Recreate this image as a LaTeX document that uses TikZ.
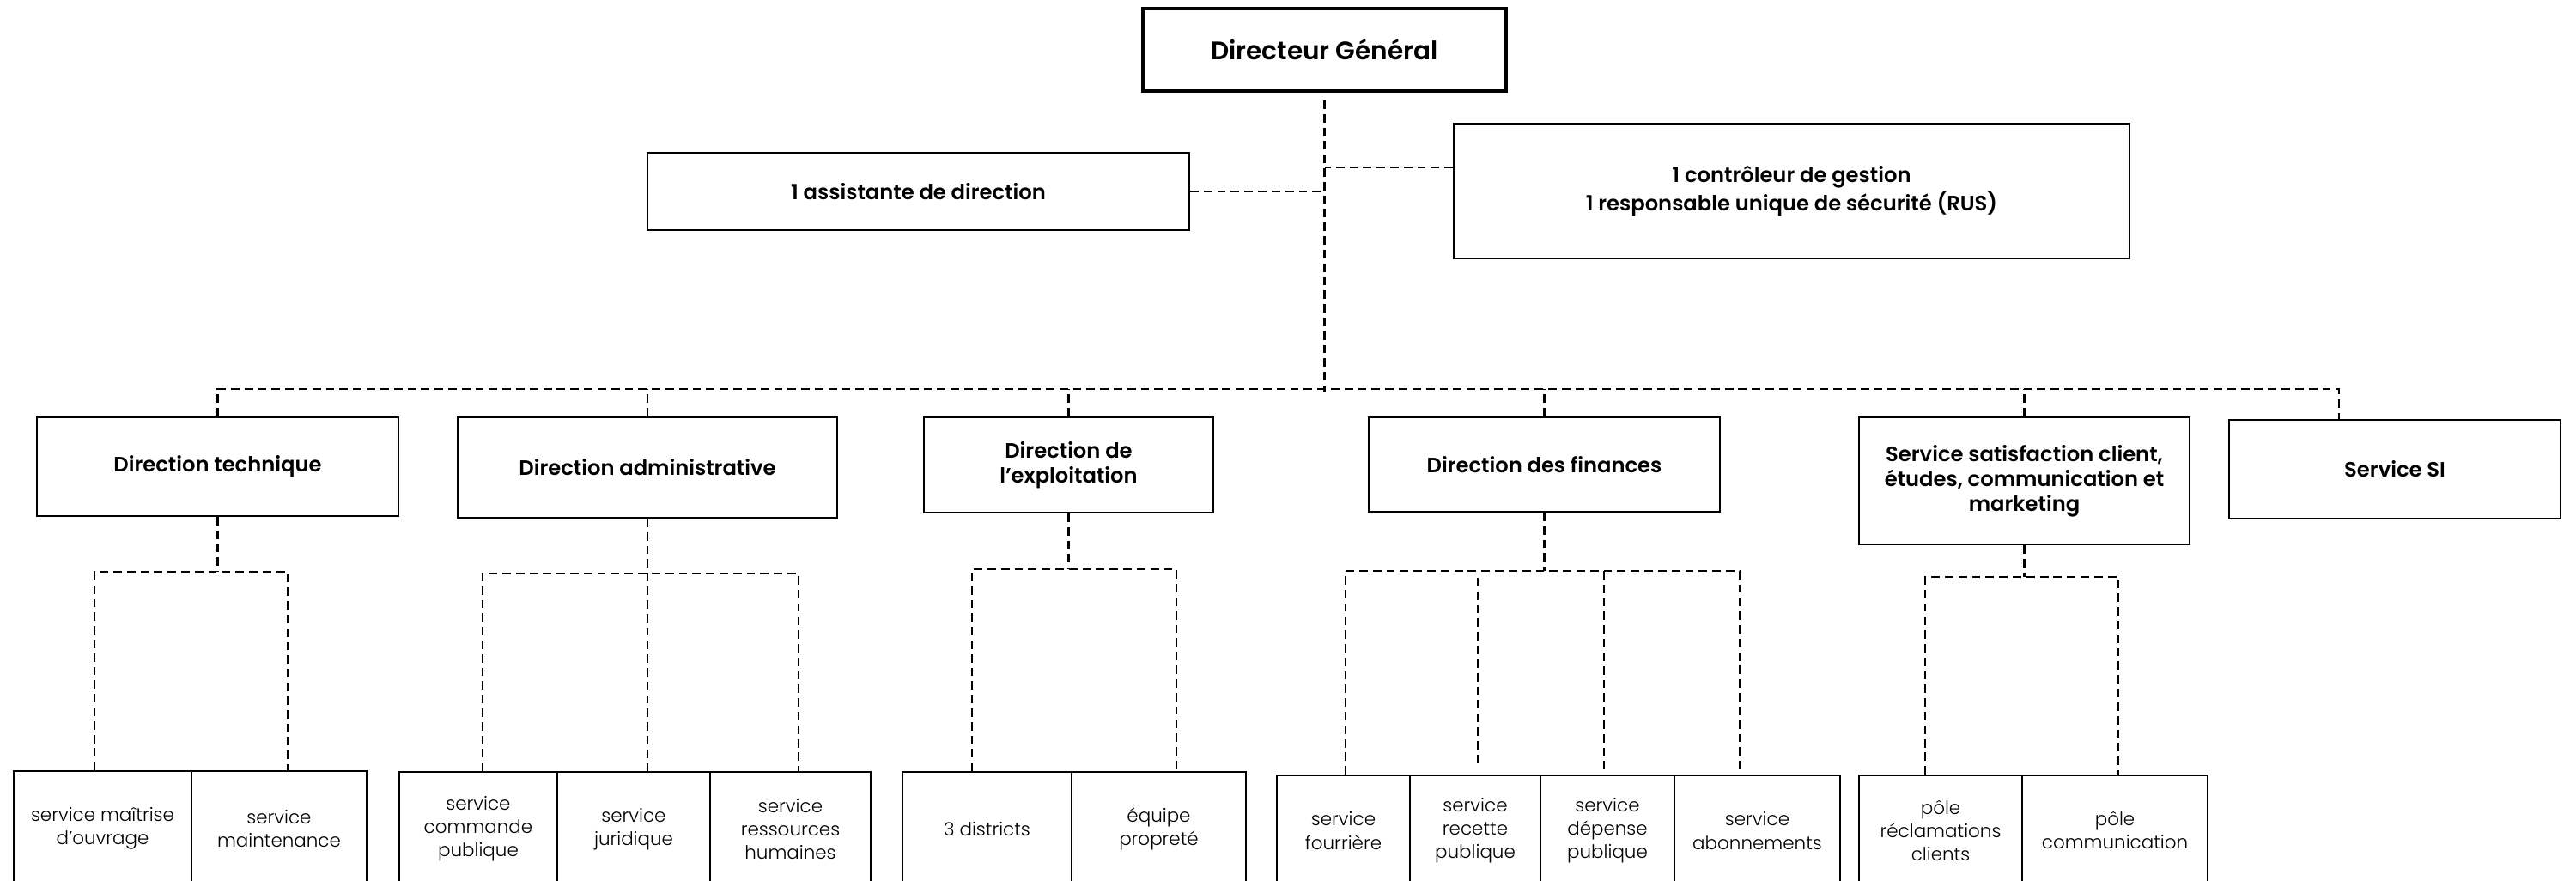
\documentclass[tikz,border=0pt]{standalone}
\usepackage{fontspec}
\IfFontExistsTF{Poppins SemiBold}
  {\setmainfont{Poppins}[BoldFont={Poppins SemiBold}]}
  {\setmainfont{Poppins}}
\IfFontExistsTF{Poppins Light}
  {\newfontfamily\lightface{Poppins Light}}
  {\newfontfamily\lightface{Poppins}}
\usetikzlibrary{positioning}

\begin{document}
\begin{tikzpicture}[
  box/.style={draw, line width=0.55pt, align=center, inner sep=0pt,
    font=\bfseries\fontsize{6.9}{8.2}\selectfont},
  boss/.style={box, line width=1.1pt, font=\bfseries\fontsize{8.4}{9.5}\selectfont},
  unit/.style={draw, line width=0.5pt, align=center, inner sep=0pt,
    font=\lightface\fontsize{6.1}{7.7}\selectfont},
  link/.style={line width=0.6pt, dash pattern=on 2.8pt off 1.7pt}
]
\useasboundingbox (0,0) rectangle (30,-10.25);
\clip (0,0) rectangle (30,-10.25);

% top
\node[boss, minimum width=4.23cm, minimum height=0.96cm] (dg) at (15.425,-0.58) {Directeur Général};
\node[box, minimum width=6.31cm, minimum height=0.90cm] (asst) at (10.695,-2.23) {1 assistante de direction};
\node[box, minimum width=7.87cm, minimum height=1.57cm] (ctrl) at (20.865,-2.225) {1 contrôleur de gestion\\1 responsable unique de sécurité (RUS)};

% directions
\node[box, minimum width=4.21cm, minimum height=1.15cm] (tech) at (2.535,-5.435) {Direction technique};
\node[box, minimum width=4.42cm, minimum height=1.17cm] (admin) at (7.54,-5.445) {Direction administrative};
\node[box, minimum width=3.37cm, minimum height=1.11cm] (exploit) at (12.445,-5.415) {Direction de\\l’exploitation};
\node[box, minimum width=4.09cm, minimum height=1.10cm] (fin) at (17.985,-5.41) {Direction des finances};
\node[box, minimum width=3.85cm, minimum height=1.48cm] (satis) at (23.575,-5.60) {Service satisfaction client,\\études, communication et\\marketing};
\node[box, minimum width=3.86cm, minimum height=1.15cm] (si) at (27.89,-5.465) {Service SI};

% services
\node[unit, minimum width=2.07cm, minimum height=1.34cm] (s1) at (1.195,-9.65) {service maîtrise\\d’ouvrage};
\node[unit, minimum width=2.04cm, minimum height=1.34cm] (s2) at (3.25,-9.65) {service\\maintenance};
\node[unit, minimum width=1.84cm, minimum height=1.33cm] (a1) at (5.57,-9.655) {service\\commande\\publique};
\node[unit, minimum width=1.78cm, minimum height=1.33cm] (a2) at (7.38,-9.655) {service\\juridique};
\node[unit, minimum width=1.87cm, minimum height=1.33cm] (a3) at (9.205,-9.655) {service\\ressources\\humaines};
\node[unit, minimum width=1.97cm, minimum height=1.33cm] (e1) at (11.495,-9.655) {3 districts};
\node[unit, minimum width=2.03cm, minimum height=1.33cm] (e2) at (13.495,-9.655) {équipe\\propreté};
\node[unit, minimum width=1.55cm, minimum height=1.29cm] (f1) at (15.645,-9.675) {service\\fourrière};
\node[unit, minimum width=1.52cm, minimum height=1.29cm] (f2) at (17.18,-9.675) {service\\recette\\publique};
\node[unit, minimum width=1.56cm, minimum height=1.29cm] (f3) at (18.72,-9.675) {service\\dépense\\publique};
\node[unit, minimum width=1.93cm, minimum height=1.29cm] (f4) at (20.465,-9.675) {service\\abonnements};
\node[unit, minimum width=1.90cm, minimum height=1.29cm] (p1) at (22.60,-9.675) {pôle\\réclamations\\clients};
\node[unit, minimum width=2.16cm, minimum height=1.29cm] (p2) at (24.63,-9.675) {pôle\\communication};

% links from the top
\coordinate (bus) at (dg.south |- 0,-4.53);
\draw[link] ([yshift=-0.09cm]dg.south) -- ([yshift=-0.03cm]bus);
\draw[link] (asst.east) -- (asst.east -| dg.south);
\draw[link] ([yshift=0.275cm]ctrl.west) -- ([yshift=0.275cm]ctrl.west -| dg.south);
\draw[link] (tech.north) |- (bus) -| ([xshift=-0.65cm]si.north);
\foreach \n in {admin,exploit,fin,satis}
  \draw[link] (\n.north) -- (\n.north |- bus);

% links to the services
\draw[link] (tech.south) -- (tech.south |- 0,-6.66);
\draw[link] ([xshift=-0.095cm]s1.north) |- (tech.south |- 0,-6.66) -| ([xshift=0.1cm]s2.north);
\draw[link] (admin.south) -- (admin.south |- a2.north);
\draw[link] ([xshift=0.05cm]a1.north) |- (admin.south |- 0,-6.68) -| ([xshift=0.095cm]a3.north);
\draw[link] (exploit.south) -- (exploit.south |- 0,-6.63);
\draw[link] ([xshift=-0.175cm]e1.north) |- (exploit.south |- 0,-6.63) -| ([xshift=0.205cm]e2.north);
\draw[link] (fin.south) -- (fin.south |- 0,-6.65);
\draw[link] ([xshift=0.025cm]f1.north) |- (fin.south |- 0,-6.65) -| ([xshift=-0.205cm]f4.north);
\draw[link, shorten <=0.08cm, shorten >=0.13cm] ([xshift=0.03cm]f2.north |- 0,-6.65) -- ([xshift=0.03cm]f2.north);
\draw[link] ([xshift=-0.04cm]f3.north |- 0,-6.65) -- ([xshift=-0.04cm]f3.north);
\draw[link] (satis.south) -- (satis.south |- 0,-6.72);
\draw[link] ([xshift=-0.18cm]p1.north) |- (satis.south |- 0,-6.72) -| ([xshift=0.04cm]p2.north);
\end{tikzpicture}
\end{document}
